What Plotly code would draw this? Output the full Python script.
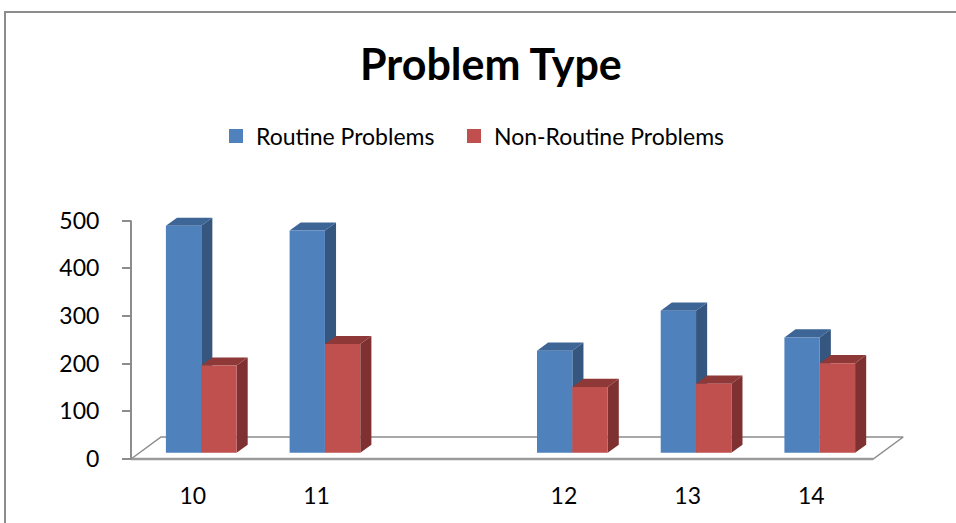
import plotly.graph_objects as go

# ---- data -------------------------------------------------------------
categories = ["10", "11", "", "12", "13", "14"]
routine = [476, 466, None, 214, 298, 242]
non_routine = [183, 228, None, 138, 145, 188]
y_ticks = [0, 100, 200, 300, 400, 500]
series_names = ["Routine Problems", "Non-Routine Problems"]

# ---- styling ----------------------------------------------------------
front_colors = ["#4F81BD", "#C0504D"]
side_colors = ["#34567F", "#7E3130"]
top_colors = ["#3D6596", "#8E3937"]
FONT = "Lato"

W, H = 956, 523
PLOT_L, PLOT_R, PLOT_T, PLOT_B = 120, 920, 200, 470
X0_PX, Y0_PX = 131, 459          # front-left floor corner
CAT_PX = 123.7                   # pixels per category
VAL_PX = 0.477                   # pixels per value unit
DEPTH_X_PX, DEPTH_Y_PX = 30, 22  # oblique shift of the full floor depth
LEGEND_X_PX = [216, 454]         # left edge of each legend entry

# oblique projection expressed in data units
DXu = DEPTH_X_PX / CAT_PX
DYv = DEPTH_Y_PX / VAL_PX
GAP = 1.5                        # gap width relative to one bar
BAR_W = 1 / (2 + GAP)
LEFT = (GAP / 2) * BAR_W
D_FRONT, D_BACK = 0.28, 0.65     # depth of the columns inside the floor

x_range = [(PLOT_L - X0_PX) / CAT_PX, (PLOT_R - X0_PX) / CAT_PX]
y_range = [(Y0_PX - PLOT_B) / VAL_PX, (Y0_PX - PLOT_T) / VAL_PX]


def proj(u, v, d):
    return u + d * DXu, v + d * DYv


def px_to_paper_x(px):
    return (px - PLOT_L) / (PLOT_R - PLOT_L)


def px_to_paper_y(py):
    return (PLOT_B - py) / (PLOT_B - PLOT_T)


def polygon_trace(polys, color):
    xs, ys = [], []
    for pts in polys:
        for p in pts + [pts[0]]:
            x, y = proj(*p)
            xs.append(x)
            ys.append(y)
        xs.append(None)
        ys.append(None)
    return go.Scatter(x=xs, y=ys, mode="lines", fill="toself", fillcolor=color,
                      line=dict(width=0), showlegend=False, hoverinfo="skip")


fig = go.Figure()

# floor outline
n = len(categories)
floor = [(0, 0), (n, 0), (n, 1), (0, 1), (0, 0)]
fx, fy = zip(*[proj(u, 0, d) for u, d in floor])
fig.add_trace(go.Scatter(x=fx, y=fy, mode="lines", showlegend=False,
                         line=dict(color="#8C8C8C", width=1.5), hoverinfo="skip"))
ex, ey = zip(*[proj(u, 0, 0) for u in (0, n)])
fig.add_trace(go.Scatter(x=ex, y=ey, mode="lines", showlegend=False,
                         line=dict(color="#9A9A9A", width=2.5), hoverinfo="skip"))
# value axis line
ax, ay = zip(*[proj(0, v, 0) for v in (0, max(y_ticks))])
fig.add_trace(go.Scatter(x=ax, y=ay, mode="lines", showlegend=False,
                         line=dict(color="#8C8C8C", width=2), hoverinfo="skip"))

# columns: for each series the side, top and front faces, back to front
series = [routine, non_routine]
for s, vals in enumerate(series):
    sides, tops, fronts = [], [], []
    for i, v in enumerate(vals):
        if v is None:
            continue
        ul = i + LEFT + s * BAR_W
        ur = ul + BAR_W
        sides.append([(ur, 0, D_FRONT), (ur, v, D_FRONT), (ur, v, D_BACK), (ur, 0, D_BACK)])
        tops.append([(ul, v, D_FRONT), (ur, v, D_FRONT), (ur, v, D_BACK), (ul, v, D_BACK)])
        fronts.append([(ul, 0, D_FRONT), (ur, 0, D_FRONT), (ur, v, D_FRONT), (ul, v, D_FRONT)])
    fig.add_trace(polygon_trace(sides, side_colors[s]))
    fig.add_trace(polygon_trace(tops, top_colors[s]))
    fig.add_trace(polygon_trace(fronts, front_colors[s]))

# legend entries, one legend box per series
legend_ids = ["legend", "legend2"]
for s in range(2):
    fig.add_trace(go.Scatter(x=[None], y=[None], mode="markers", name=series_names[s],
                             marker=dict(symbol="square", size=14, color=front_colors[s]),
                             hoverinfo="skip", legend=legend_ids[s]))

legend_style = dict(orientation="h", xanchor="left", yanchor="middle",
                    y=px_to_paper_y(136),
                    font=dict(family=FONT, size=23, color="#000000"),
                    bgcolor="rgba(0,0,0,0)")

fig.update_layout(
    width=W, height=H,
    margin=dict(l=PLOT_L, r=W - PLOT_R, t=PLOT_T, b=H - PLOT_B),
    paper_bgcolor="white", plot_bgcolor="rgba(0,0,0,0)",
    hovermode=False,
    font=dict(family=FONT, color="#000000"),
    showlegend=True,
    legend=dict(x=px_to_paper_x(LEGEND_X_PX[0]), **legend_style),
    legend2=dict(x=px_to_paper_x(LEGEND_X_PX[1]), **legend_style),
    xaxis=dict(range=x_range, showgrid=False, zeroline=False, showline=False,
               tickvals=[i + 0.5 for i in range(n)], ticktext=categories,
               ticks="", ticklabelstandoff=10,
               tickfont=dict(family=FONT, size=23, color="#000000")),
    yaxis=dict(range=y_range, showgrid=False, zeroline=False, showline=False,
               anchor="free", position=px_to_paper_x(X0_PX),
               tickvals=y_ticks, ticks="outside", ticklen=9, tickwidth=2,
               tickcolor="#8C8C8C", ticklabelstandoff=18,
               tickfont=dict(family=FONT, size=23, color="#000000")),
    annotations=[dict(text="<b>Problem Type</b>", xref="paper", yref="paper",
                      x=px_to_paper_x(491), y=px_to_paper_y(63),
                      xanchor="center", yanchor="middle", showarrow=False,
                      font=dict(family=FONT, size=43, color="#000000"))],
    shapes=[dict(type="rect", xref="paper", yref="paper",
                 x0=px_to_paper_x(5), x1=px_to_paper_x(W + 10),
                 y0=px_to_paper_y(H + 10), y1=px_to_paper_y(12),
                 line=dict(color="#8C8C8C", width=2), layer="below")],
)

fig.write_html("out.html")
